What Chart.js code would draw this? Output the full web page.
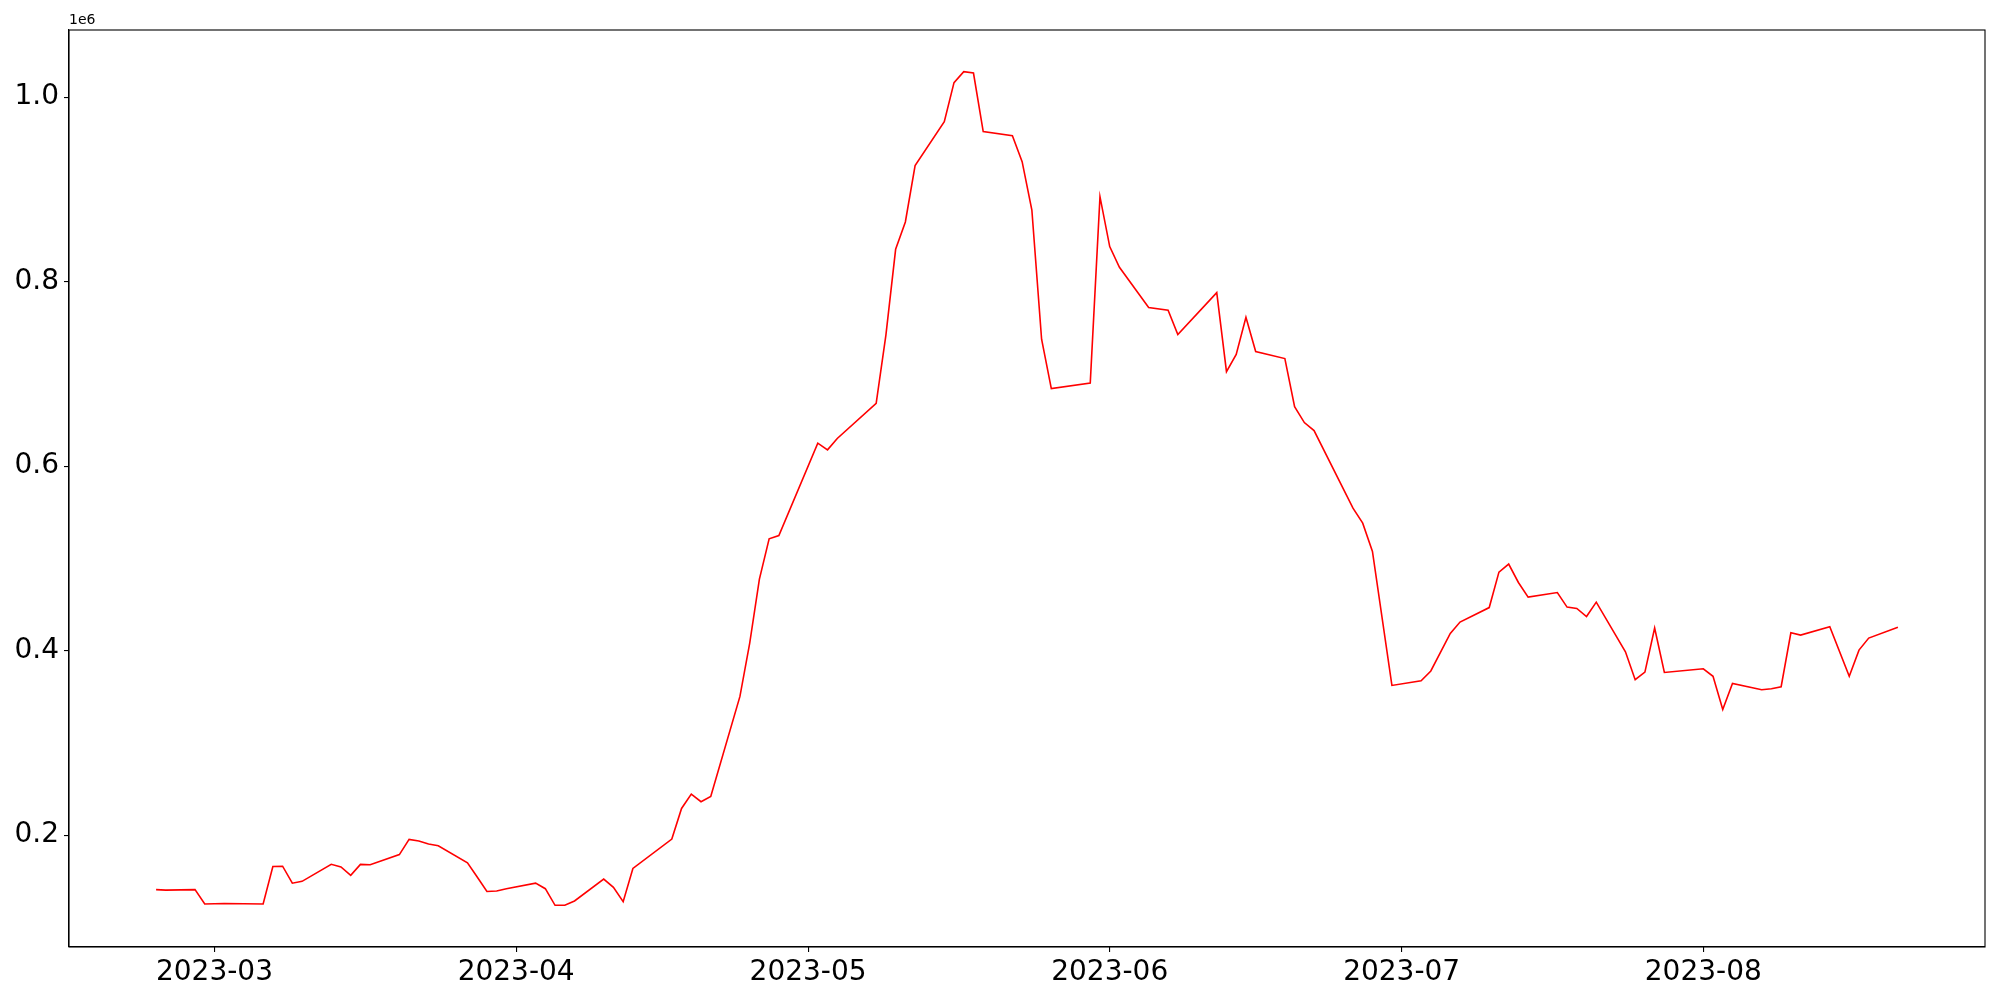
<!DOCTYPE html>
<html lang="en">

<head>
    <meta charset="UTF-8">
    <title>Daily series 2023</title>
    <style>
        body {
            margin: 0;
            padding: 0;
            background-color: #fff;
        }

        #wrap {
            width: 2000px;
            height: 1000px;
        }
    </style>
</head>

<body>
    <div id="wrap">
        <canvas id="chart" width="2000" height="1000"></canvas>
    </div>

    <script src="https://cdn.jsdelivr.net/npm/chart.js"></script>
    <script>
        // values
        const dates = [
            '2023-02-23', '2023-02-24', '2023-02-27', '2023-02-28',
            '2023-03-02', '2023-03-06', '2023-03-07', '2023-03-08', '2023-03-09', '2023-03-10',
            '2023-03-13', '2023-03-14', '2023-03-15', '2023-03-16', '2023-03-17',
            '2023-03-20', '2023-03-21', '2023-03-22', '2023-03-23', '2023-03-24',
            '2023-03-27', '2023-03-28', '2023-03-29', '2023-03-30', '2023-03-31',
            '2023-04-03', '2023-04-04', '2023-04-05', '2023-04-06', '2023-04-07',
            '2023-04-10', '2023-04-11', '2023-04-12', '2023-04-13',
            '2023-04-17', '2023-04-18', '2023-04-19', '2023-04-20', '2023-04-21',
            '2023-04-24', '2023-04-25', '2023-04-26', '2023-04-27', '2023-04-28',
            '2023-05-02', '2023-05-03', '2023-05-04',
            '2023-05-08', '2023-05-09', '2023-05-10', '2023-05-11', '2023-05-12',
            '2023-05-15', '2023-05-16', '2023-05-17', '2023-05-18', '2023-05-19',
            '2023-05-22', '2023-05-23', '2023-05-24', '2023-05-25', '2023-05-26',
            '2023-05-30', '2023-05-31',
            '2023-06-01', '2023-06-02', '2023-06-05', '2023-06-07', '2023-06-08',
            '2023-06-12', '2023-06-13', '2023-06-14', '2023-06-15', '2023-06-16',
            '2023-06-19', '2023-06-20', '2023-06-21', '2023-06-22',
            '2023-06-26', '2023-06-27', '2023-06-28', '2023-06-30',
            '2023-07-03', '2023-07-04', '2023-07-06', '2023-07-07',
            '2023-07-10', '2023-07-11', '2023-07-12', '2023-07-13', '2023-07-14',
            '2023-07-17', '2023-07-18', '2023-07-19', '2023-07-20', '2023-07-21',
            '2023-07-24', '2023-07-25', '2023-07-26', '2023-07-27', '2023-07-28',
            '2023-08-01', '2023-08-02', '2023-08-03', '2023-08-04',
            '2023-08-07', '2023-08-08', '2023-08-09', '2023-08-10', '2023-08-11',
            '2023-08-14', '2023-08-16', '2023-08-17', '2023-08-18', '2023-08-21'
        ];

        const values = [
            141000, 140500, 141000, 125500,
            126000, 125500, 166000, 166400, 148000, 150000,
            168400, 165600, 156500, 168400, 168000,
            179000, 195500, 193700, 190400, 188600,
            170000, 154700, 139000, 139500, 142000,
            148000, 142000, 124000, 124000, 128700,
            152500, 143500, 128000, 164000,
            195800, 229000, 244600, 236300, 242000,
            350400, 408000, 477500, 521200, 524800,
            624900, 617600, 630000,
            668000, 742000, 835000, 864600, 925700,
            973300, 1015600, 1027500, 1026000, 962500,
            958000, 930000, 877600, 737500, 684000,
            690000, 892000,
            838000, 815500, 772000, 769000, 742500,
            788000, 702400, 721000, 761400, 724200,
            716600, 664500, 647200, 638500,
            554400, 538200, 507500, 362300,
            367400, 378000, 418700, 431000,
            446700, 485100, 493800, 473900, 458000,
            463000, 447200, 445700, 437000, 452600,
            398800, 368500, 376800, 424500, 376400,
            380400, 372200, 336300, 364500,
            357600, 358700, 360900, 419400, 416900,
            425900, 372200, 400600, 413600, 425500
        ];

        const xTickDates = ['2023-03-01', '2023-04-01', '2023-05-01', '2023-06-01', '2023-07-01', '2023-08-01'];
        const xTickLabels = ['2023-03', '2023-04', '2023-05', '2023-06', '2023-07', '2023-08'];
        const yTicks = [200000, 400000, 600000, 800000, 1000000];
        const yTickLabels = ['0.2', '0.4', '0.6', '0.8', '1.0'];
        const offsetText = '1e6';

        const DAY = 86400000;

        function dayNum(s) {
            const p = s.split('-').map(Number);
            return Date.UTC(p[0], p[1] - 1, p[2]) / DAY;
        }

        const points = dates.map((d, i) => ({ x: dayNum(d), y: values[i] }));

        // matplotlib-like 5% margins
        const xs = points.map(p => p.x);
        const xLo = Math.min(...xs), xHi = Math.max(...xs);
        const yLo = Math.min(...values), yHi = Math.max(...values);
        const xPad = (xHi - xLo) * 0.05, yPad = (yHi - yLo) * 0.05;

        const tickFont = { family: 'DejaVu Sans', size: 28 };

        const frame = {
            id: 'frame',
            afterDraw(chart) {
                const { ctx, chartArea: a } = chart;
                ctx.save();
                ctx.strokeStyle = '#000';
                ctx.lineWidth = 1.1;
                ctx.strokeRect(a.left, a.top, a.right - a.left, a.bottom - a.top);
                ctx.fillStyle = '#000';
                ctx.font = '14px "DejaVu Sans"';
                ctx.textAlign = 'left';
                ctx.textBaseline = 'bottom';
                ctx.fillText(offsetText, a.left, a.top - 3);
                ctx.restore();
            }
        };

        new Chart(document.getElementById('chart').getContext('2d'), {
            type: 'line',
            data: {
                datasets: [{
                    data: points,
                    borderColor: '#ff0000',
                    borderWidth: 1.6,
                    pointRadius: 0,
                    fill: false,
                    tension: 0
                }]
            },
            options: {
                responsive: false,
                animation: false,
                devicePixelRatio: 1,
                layout: { padding: { top: 30, right: 15, left: 0, bottom: 0 } },
                plugins: { legend: { display: false }, tooltip: { enabled: false } },
                scales: {
                    x: {
                        type: 'linear',
                        min: xLo - xPad,
                        max: xHi + xPad,
                        afterBuildTicks: s => { s.ticks = xTickDates.map(d => ({ value: dayNum(d) })); },
                        afterFit: s => { s.height = 53; },
                        grid: { display: true, drawOnChartArea: false, drawTicks: true, tickLength: 5, color: '#000', lineWidth: 1.1 },
                        border: { display: true, color: '#000', width: 1.1 },
                        ticks: {
                            color: '#000',
                            font: tickFont,
                            padding: 4,
                            maxRotation: 0,
                            autoSkip: false,
                            callback: (v, i) => xTickLabels[i]
                        }
                    },
                    y: {
                        type: 'linear',
                        min: yLo - yPad,
                        max: yHi + yPad,
                        afterBuildTicks: s => { s.ticks = yTicks.map(v => ({ value: v })); },
                        afterFit: s => { s.width = 69; },
                        grid: { display: true, drawOnChartArea: false, drawTicks: true, tickLength: 5, color: '#000', lineWidth: 1.1 },
                        border: { display: true, color: '#000', width: 1.1 },
                        ticks: {
                            color: '#000',
                            font: tickFont,
                            padding: 5,
                            autoSkip: false,
                            callback: (v, i) => yTickLabels[i]
                        }
                    }
                }
            },
            plugins: [frame]
        });
    </script>
</body>

</html>
